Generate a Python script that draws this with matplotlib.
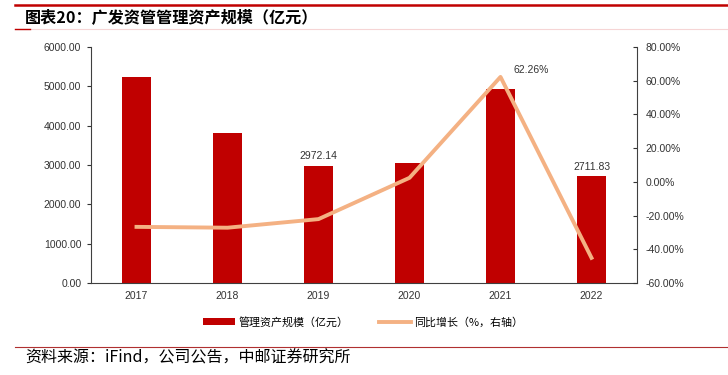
import numpy as np
import matplotlib
matplotlib.use('Agg')
import matplotlib.pyplot as plt
from matplotlib.lines import Line2D

plt.rcParams['font.family'] = ['Liberation Sans', 'Noto Sans CJK SC', 'DejaVu Sans']
plt.rcParams['axes.unicode_minus'] = False

# 数据
years = ['2017', '2018', '2019', '2020', '2021', '2022']
aum = [5240, 3817, 2972.14, 3043, 4937, 2711.83]          # 管理资产规模（亿元）
yoy = [-26.7, -27.2, -22.1, 2.4, 62.26, -45.07]          # 同比增长（%）

bar_color = '#C00000'
line_color = '#F4B183'

fig = plt.figure(figsize=(7.28, 3.75), dpi=100)

# 顶部装饰线与标题
fig.add_artist(Line2D([15 / 728, 1], [1 - 4.5 / 375] * 2, color='#C00000', lw=1.8))
fig.add_artist(Line2D([15 / 728, 1], [1 - 29 / 375] * 2, color='#F6D5D5', lw=0.8))
fig.add_artist(Line2D([15 / 728, 30 / 728], [1 - 29 / 375] * 2, color='#C00000', lw=1.0))
fig.text(25 / 728, 1 - 17 / 375, '图表20：广发资管管理资产规模（亿元）',
         fontsize=11.6, fontweight='bold', va='center', ha='left',
         family=['Noto Sans CJK SC', 'DejaVu Sans'])

# 底部来源
fig.add_artist(Line2D([15 / 728, 1], [1 - 347 / 375] * 2, color='#B03030', lw=0.8))
fig.text(25 / 728, 1 - 358 / 375, '资料来源：iFind，公司公告，中邮证券研究所',
         fontsize=11.5, va='center', ha='left',
         family=['Noto Sans CJK SC', 'DejaVu Sans'])

ax = fig.add_axes([91 / 728, 92 / 375, 546 / 728, 236 / 375])
x = np.arange(len(years))

bars = ax.bar(x, aum, width=0.32, color=bar_color, zorder=2, label='管理资产规模（亿元）')
ax.set_xlim(-0.5, len(years) - 0.5)
ax.set_ylim(0, 6000)
ax.set_yticks(np.arange(0, 6001, 1000))
ax.set_yticklabels([f'{v:.2f}' for v in np.arange(0, 6001, 1000)])
ax.set_xticks(x)
ax.set_xticklabels(years)
ax.tick_params(axis='y', direction='out', length=3, labelsize=7.5, colors='#333333', pad=4)
ax.tick_params(axis='x', length=0, labelsize=7.5, colors='#333333', pad=6)
for s in ['top', 'right']:
    ax.spines[s].set_visible(False)
ax.spines['left'].set_color('#404040')
ax.spines['bottom'].set_color('#404040')

for i in [2, 5]:
    ax.text(x[i], aum[i] + 120, f'{aum[i]:.2f}', ha='center', va='bottom',
            fontsize=7.5, color='#333333')

ax2 = ax.twinx()
ln, = ax2.plot(x, yoy, color=line_color, lw=2.8, zorder=3, label='同比增长（%，右轴）')
ax2.set_ylim(-60, 80)
ax2.set_yticks(np.arange(-60, 81, 20))
ax2.set_yticklabels([f'{v:.2f}%' for v in np.arange(-60, 81, 20)])
ax2.tick_params(axis='y', direction='in', length=3, labelsize=7.5, colors='#333333', pad=6)
for s in ['top', 'left', 'bottom']:
    ax2.spines[s].set_visible(False)
ax2.spines['right'].set_color('#404040')
ax2.text(x[4] + 0.14, yoy[4] + 1, f'{yoy[4]:.2f}%', ha='left', va='bottom',
         fontsize=7.5, color='#333333')

handles = [bars, ln]
labels = ['管理资产规模（亿元）', '同比增长（%，右轴）']
fig.legend(handles, labels, loc='center', bbox_to_anchor=(363 / 728, 1 - 322 / 375),
           ncol=2, frameon=False, handlelength=2.9, columnspacing=2.8,
           handletextpad=0.3, prop={'family': ['Noto Sans CJK SC', 'DejaVu Sans'], 'size': 7.9})

fig.savefig('out.png', dpi=100, facecolor='white')
